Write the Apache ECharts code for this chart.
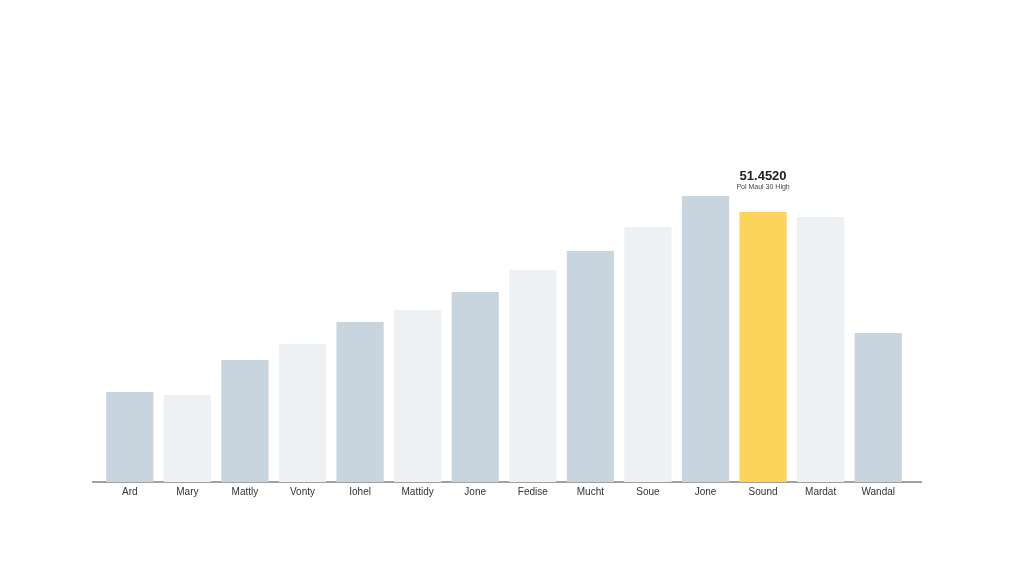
<!DOCTYPE html>
<html><head><meta charset="utf-8">
<script src="https://cdn.jsdelivr.net/npm/echarts@6/dist/echarts.min.js"></script>
<style>html,body{margin:0;background:#fff}#c{width:1024px;height:576px}</style>
</head><body><div id="c"></div>
<script>
var categories = ["Ard","Mary","Mattly","Vonty","Iohel","Mattidy","Jone","Fedise","Mucht","Soue","Jone","Sound","Mardat","Wandal"];
var values = [90,87,122,138,160,172,190,212,231,255,286,270,265,149];
var barColors = ["#c9d5de","#eef1f3","#c9d5de","#eef1f3","#c9d5de","#eef1f3","#c9d5de","#eef1f3","#c9d5de","#eef1f3","#c9d5de","#fcd45a","#eef1f3","#c9d5de"];
var highlightIndex = 11;
var highlightTitle = "51.4520";
var highlightSub = "Pol Maul 30 High";
var chart = echarts.init(document.getElementById('c'));
chart.setOption({
  animation:false,
  grid:{left:101,right:117,top:82,bottom:94},
  graphic:[{type:'line',shape:{x1:92,y1:482,x2:922,y2:482},style:{stroke:'#444',lineWidth:1.2}}],
  xAxis:{type:'category',data:categories,
    axisLine:{show:false},axisTick:{show:false},
    axisLabel:{color:'#333',fontSize:10,fontFamily:'Liberation Sans',margin:5}},
  yAxis:{type:'value',min:0,max:400,show:false,splitLine:{show:false}},
  series:[{type:'bar',barCategoryGap:'18%',
    data:values.map(function(v,i){
      var d={value:v,itemStyle:{color:barColors[i]}};
      if(i===highlightIndex){d.label={show:true,position:'top',distance:20,
        formatter:'{a|'+highlightTitle+'}\n{b|'+highlightSub+'}',
        rich:{a:{fontSize:13,fontWeight:'bold',color:'#222',lineHeight:14},b:{fontSize:7,color:'#444',lineHeight:9}}};}
      return d;})
  }]
});
</script></body></html>
